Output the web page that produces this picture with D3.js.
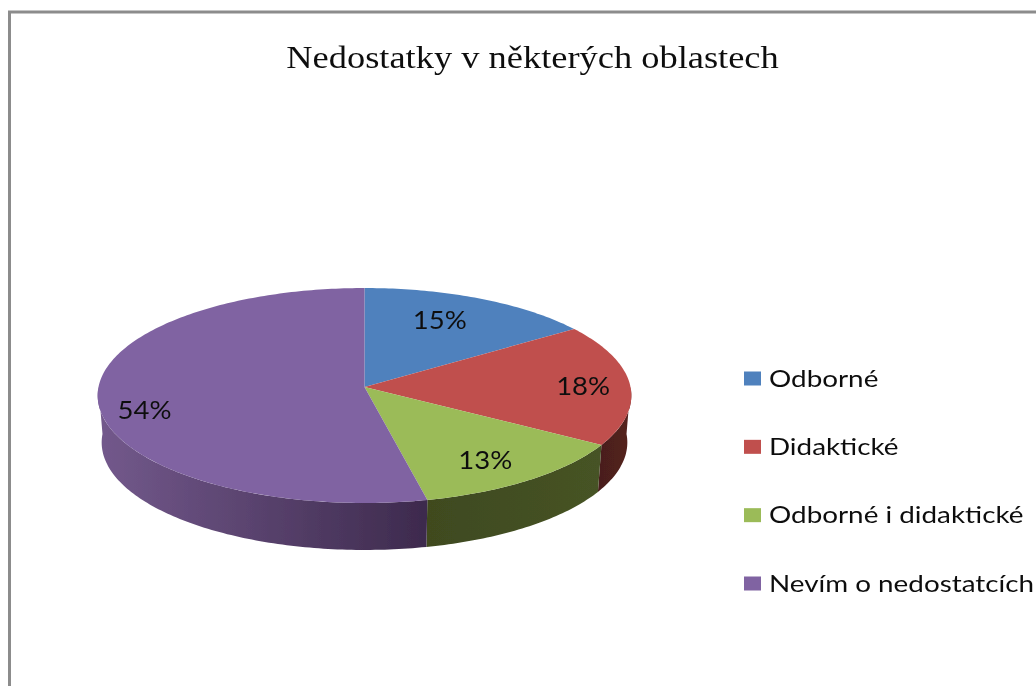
<!DOCTYPE html>
<html>
<head>
<meta charset="utf-8">
<script src="https://cdnjs.cloudflare.com/ajax/libs/d3/7.8.5/d3.min.js"></script>
<style>
  html, body { margin: 0; padding: 0; background: #fff; overflow: hidden; }
  .title { font-family: "Liberation Serif", serif; font-size: 31px; fill: #111; }
  .legend text { font-family: Lato, sans-serif; font-size: 23px; fill: #111; }
  .pct { font-family: Lato, sans-serif; font-size: 25px; fill: #111; }
</style>
</head>
<body>
<div id="chart"></div>
<script>
var titleText = "Nedostatky v některých oblastech";
var categories = ["Odborné", "Didaktické", "Odborné i didaktické", "Nevím o nedostatcích"];
// unrounded shares as read from the slice edges, labels are what the chart prints
var shares = [15.4, 18.3, 12.8, 53.5];
var percentLabels = ["15%", "18%", "13%", "54%"];

var topColors = ["#4f81bd", "#c0504d", "#9bbb59", "#8064a2"];
var sideStops = [
  ["#3a4f6e", "#2c3c55"],
  ["#4a1f1e", "#55211f"],
  ["#3f4a1f", "#465325"],
  ["#73598c", "#3d2a4d"]
];
// how far out along the slice each label sits, then a small nudge
var labelRadius = [0.68, 0.82, 0.8, 0.83];
var labelNudge = [[-5, -5], [1, 2], [-10, 1], [1, 14]];

var width = 1036, height = 686;
var cx = 364.5, cy = 387, depth = 47, persp = 0.079;

var x = d3.scaleLinear().domain([-1, 1]).range([cx - 266, cx + 266]);
var y = d3.scaleLinear().domain([-1, 1]).range([cy - 106.8, cy + 106.8]);

// disc coordinates to screen, nearer edge drawn a bit larger
function project(a, r) {
  var u = r * Math.sin(a), v = -r * Math.cos(a), w = 1 - persp * v;
  return [x(u / w), y(v / w)];
}
function lowered(p) {
  return [cx + (p[0] - cx) * 0.985, p[1] + depth];
}
function rim(a0, a1) {
  var n = Math.max(2, Math.ceil((a1 - a0) * 60));
  return d3.range(n + 1).map(function (i) { return project(a0 + (a1 - a0) * i / n, 1); });
}

var pie = d3.pie().sort(null)(shares);
var line = d3.line();

var svg = d3.select("#chart").append("svg")
    .attr("width", width)
    .attr("height", height);

var defs = svg.append("defs");
defs.append("filter").attr("id", "soft")
  .append("feGaussianBlur").attr("stdDeviation", 0.5);

var g = svg.append("g").attr("filter", "url(#soft)");

// frame, only top and left are in the picture
g.append("path")
  .attr("d", line([[9.5, height], [9.5, 12], [width, 12]]))
  .style("fill", "none")
  .style("stroke", "#8c8c8c")
  .style("stroke-width", 3);

g.append("text")
  .attr("class", "title")
  .attr("text-anchor", "middle")
  .attr("transform", "translate(532.5,68) scale(1.175,1)")
  .text(titleText);

// side wall, only the part facing the viewer
pie.forEach(function (d, i) {
  var a0 = Math.max(d.startAngle, Math.PI / 2), a1 = Math.min(d.endAngle, Math.PI * 1.5);
  if (a1 <= a0) return;
  var top = rim(a0, a1);
  var bottom = top.map(lowered).reverse();
  var grad = defs.append("linearGradient")
    .attr("id", "side" + i)
    .attr("gradientUnits", "userSpaceOnUse")
    .attr("x1", d3.min(top, function (p) { return p[0]; }))
    .attr("x2", d3.max(top, function (p) { return p[0]; }))
    .attr("y1", 0).attr("y2", 0);
  grad.append("stop").attr("offset", 0).attr("stop-color", sideStops[i][0]);
  grad.append("stop").attr("offset", 1).attr("stop-color", sideStops[i][1]);
  g.append("path")
    .attr("d", line(top.concat(bottom)) + "Z")
    .style("fill", "url(#side" + i + ")");
});

g.selectAll(".slice")
  .data(pie)
  .enter().append("path")
    .attr("class", "slice")
    .attr("d", function (d) {
      return line([[cx, cy]].concat(rim(d.startAngle, d.endAngle))) + "Z";
    })
    .style("fill", function (d, i) { return topColors[i]; });

g.selectAll(".pct")
  .data(pie)
  .enter().append("text")
    .attr("class", "pct")
    .attr("text-anchor", "middle")
    .attr("transform", function (d, i) {
      var p = project((d.startAngle + d.endAngle) / 2, labelRadius[i]);
      return "translate(" + (p[0] + labelNudge[i][0]) + "," + (p[1] + 8 + labelNudge[i][1]) + ") scale(1.1,1)";
    })
    .text(function (d, i) { return percentLabels[i]; });

var legendY = d3.scalePoint().domain(categories).range([378.5, 583.5]);

var legend = g.selectAll(".legend")
  .data(categories)
  .enter().append("g")
    .attr("class", "legend")
    .attr("transform", function (d) { return "translate(744," + legendY(d) + ")"; });

legend.append("rect")
  .attr("y", -7)
  .attr("width", 17)
  .attr("height", 14)
  .style("fill", function (d, i) { return topColors[i]; });

legend.append("text")
  .attr("transform", "translate(25,8) scale(1.21,1)")
  .text(function (d) { return d; });
</script>
</body>
</html>
